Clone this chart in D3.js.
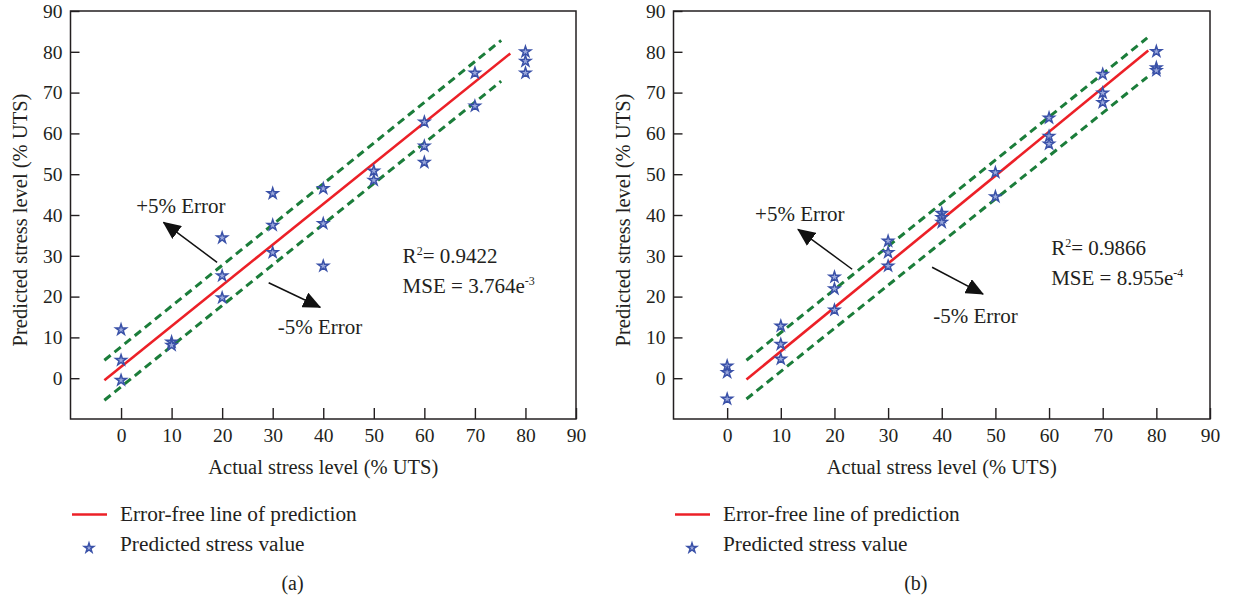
<!DOCTYPE html>
<html>
<head>
<meta charset="utf-8">
<title>Predicted vs actual stress level</title>
<script src="https://cdn.jsdelivr.net/npm/d3@7"></script>
<style>
body{margin:0;background:#fff;}
svg text{font-family:"Liberation Serif","Times New Roman",serif;fill:#231f20;}
</style>
</head>
<body>
<svg width="1233" height="604"></svg>
<script>
// actual stress levels (% UTS) and the predicted values at each level
var levels = [0,10,20,30,40,50,60,70,80];
var predA = [[11.9,4.4,-0.5],[8.9,8.1],[34.4,25.1,19.7],[45.3,37.5,30.8],[46.5,37.9,27.5],[50.8,48.5],[62.8,56.9,52.9],[74.8,66.7],[80.0,77.7,74.8]];
var predB = [[3.0,1.4,-5.1],[12.8,8.3,4.7],[24.8,21.9,16.7],[33.6,30.8,27.5],[40.4,39.4,38.2],[50.4,44.5],[63.8,59.3,57.4],[74.5,69.9,67.6],[80.1,76.1,75.4]];

// reference lines, end points in data units
var fitA = [[-3.3,-0.5],[77,79.6]];
var upA  = [[-3.3,4.4],[75.2,82.8]];
var lowA = [[-3.3,-5.4],[75.2,72.8]];
var fitB = [[3.6,-0.3],[78.5,80.3]];
var upB  = [[3.6,4.4],[78.3,83.4]];
var lowB = [[3.6,-5.1],[78.3,73.8]];

var r2 = ["0.9422","0.9866"];
var mse = ["3.764","8.955"];
var mseExp = ["-3","-4"];
var tickVals = [0,10,20,30,40,50,60,70,80,90];

var svg = d3.select("svg");
svg.append("defs").append("marker")
    .attr("id","head")
    .attr("viewBox","0 0 18 16")
    .attr("refX",17).attr("refY",8)
    .attr("markerWidth",18).attr("markerHeight",16)
    .attr("markerUnits","userSpaceOnUse")
    .attr("orient","auto")
  .append("path")
    .attr("d","M0,0 L18,8 L0,16 Z")
    .attr("fill","#111");

var ink = "#231f20";

function panel(p){
    var x = d3.scaleLinear().domain([-10,90]).range([p.x0,p.x1]),
        y = d3.scaleLinear().domain([-10,90]).range([419,11]);
    var g = svg.append("g");

    var xa = g.append("g")
        .attr("transform",`translate(0,${y(-10)})`)
        .style("color",ink)
        .call(d3.axisBottom(x).tickValues(tickVals).tickSizeInner(-11).tickSizeOuter(0).tickPadding(9));
    xa.select(".domain").remove();
    xa.selectAll("line").attr("stroke-width",1.4);
    xa.selectAll("text").style("font-size","19.5px");

    var ya = g.append("g")
        .attr("transform",`translate(${x(-10)},0)`)
        .style("color",ink)
        .call(d3.axisLeft(y).tickValues(tickVals).tickSizeInner(-9).tickSizeOuter(0).tickPadding(8));
    ya.select(".domain").remove();
    ya.selectAll("line").attr("stroke-width",1.4);
    ya.selectAll("text").style("font-size","19.5px");

    g.append("rect")
        .attr("x",x(-10)).attr("y",y(90))
        .attr("width",x(90)-x(-10)).attr("height",y(-10)-y(90))
        .attr("fill","none").attr("stroke",ink).attr("stroke-width",1.5);

    var line = d3.line().x(d=>x(d[0])).y(d=>y(d[1]));
    [p.up,p.low].forEach(function(l){
        g.append("path").attr("d",line(l))
            .attr("stroke","#1b7d3a").attr("stroke-width",3)
            .attr("stroke-dasharray","8,5").attr("fill","none");
    });
    g.append("path").attr("d",line(p.fit))
        .attr("stroke","#ec2027").attr("stroke-width",2.6).attr("fill","none");

    var pts = [];
    levels.forEach(function(l,i){ p.pred[i].forEach(v=>pts.push([l,v])); });
    var star = d3.symbol().type(d3.symbolStar).size(36);
    g.selectAll(".pt").data(pts).enter().append("path")
        .attr("class","pt")
        .attr("transform",d=>`translate(${x(d[0])},${y(d[1])})`)
        .attr("d",star)
        .attr("fill","#9aa8dc").attr("stroke","#3a51a8").attr("stroke-width",1.5);

    // annotations
    var a = p.ann;
    g.append("line")
        .attr("x1",x(a.upTail[0])).attr("y1",y(a.upTail[1]))
        .attr("x2",x(a.upTip[0])).attr("y2",y(a.upTip[1]))
        .attr("stroke","#111").attr("stroke-width",1.5).attr("marker-end","url(#head)");
    g.append("line")
        .attr("x1",x(a.lowTail[0])).attr("y1",y(a.lowTail[1]))
        .attr("x2",x(a.lowTip[0])).attr("y2",y(a.lowTip[1]))
        .attr("stroke","#111").attr("stroke-width",1.5).attr("marker-end","url(#head)");
    g.append("text").attr("x",x(a.upText[0])).attr("y",y(a.upText[1]))
        .style("font-size","21px").text("+5% Error");
    g.append("text").attr("x",x(a.lowText[0])).attr("y",y(a.lowText[1]))
        .style("font-size","21px").text("-5% Error");

    var t1 = g.append("text").attr("x",x(a.stat[0])).attr("y",y(a.stat[1])).style("font-size","21px");
    t1.append("tspan").text("R");
    t1.append("tspan").attr("dy",-8).style("font-size","12px").text("2");
    t1.append("tspan").attr("dy",8).text("= " + p.r2);
    var t2 = g.append("text").attr("x",x(a.stat[0])).attr("y",y(a.stat[1])+30).style("font-size","21px");
    t2.append("tspan").text("MSE = " + p.mse + "e");
    t2.append("tspan").attr("dy",-8).style("font-size","12px").text(p.exp);

    // axis titles
    g.append("text")
        .attr("transform",`translate(${p.ytx},220) rotate(-90)`)
        .attr("text-anchor","middle").style("font-size","20.5px")
        .text("Predicted stress level (% UTS)");
    g.append("text")
        .attr("x",(x(-10)+x(90))/2).attr("y",474)
        .attr("text-anchor","middle").style("font-size","20.5px")
        .text("Actual stress level (% UTS)");

    // legend
    var lx = p.legX;
    g.append("line").attr("x1",lx).attr("x2",lx+35).attr("y1",514.5).attr("y2",514.5)
        .attr("stroke","#ec2027").attr("stroke-width",2.6);
    g.append("path").attr("transform",`translate(${lx+17},548)`)
        .attr("d",d3.symbol().type(d3.symbolStar).size(28))
        .attr("fill","#9aa8dc").attr("stroke","#3a51a8").attr("stroke-width",1.5);
    g.append("text").attr("x",lx+48).attr("y",520.5).style("font-size","21.3px")
        .text("Error-free line of prediction");
    g.append("text").attr("x",lx+48).attr("y",551).style("font-size","21.3px")
        .text("Predicted stress value");
    g.append("text").attr("x",p.capX).attr("y",590).attr("text-anchor","middle")
        .style("font-size","20px").text(p.cap);
}

panel({x0:70.5,x1:576,pred:predA,fit:fitA,up:upA,low:lowA,r2:r2[0],mse:mse[0],exp:mseExp[0],
    ytx:27,legX:72,capX:292.5,cap:"(a)",
    ann:{upText:[3.0,40.6],upTail:[19.0,28.4],upTip:[8.4,38.2],
         lowText:[31.0,10.8],lowTail:[29.2,23.4],lowTip:[39.4,17.4],stat:[55.7,28.2]}});
panel({x0:673.5,x1:1210,pred:predB,fit:fitB,up:upB,low:lowB,r2:r2[1],mse:mse[1],exp:mseExp[1],
    ytx:630,legX:675,capX:915.8,cap:"(b)",
    ann:{upText:[5.2,38.6],upTail:[23.3,26.7],upTip:[13.2,36.5],
         lowText:[38.4,13.6],lowTail:[38.2,27.2],lowTip:[47.7,20.6],stat:[60.4,30.1]}});
</script>
</body>
</html>
